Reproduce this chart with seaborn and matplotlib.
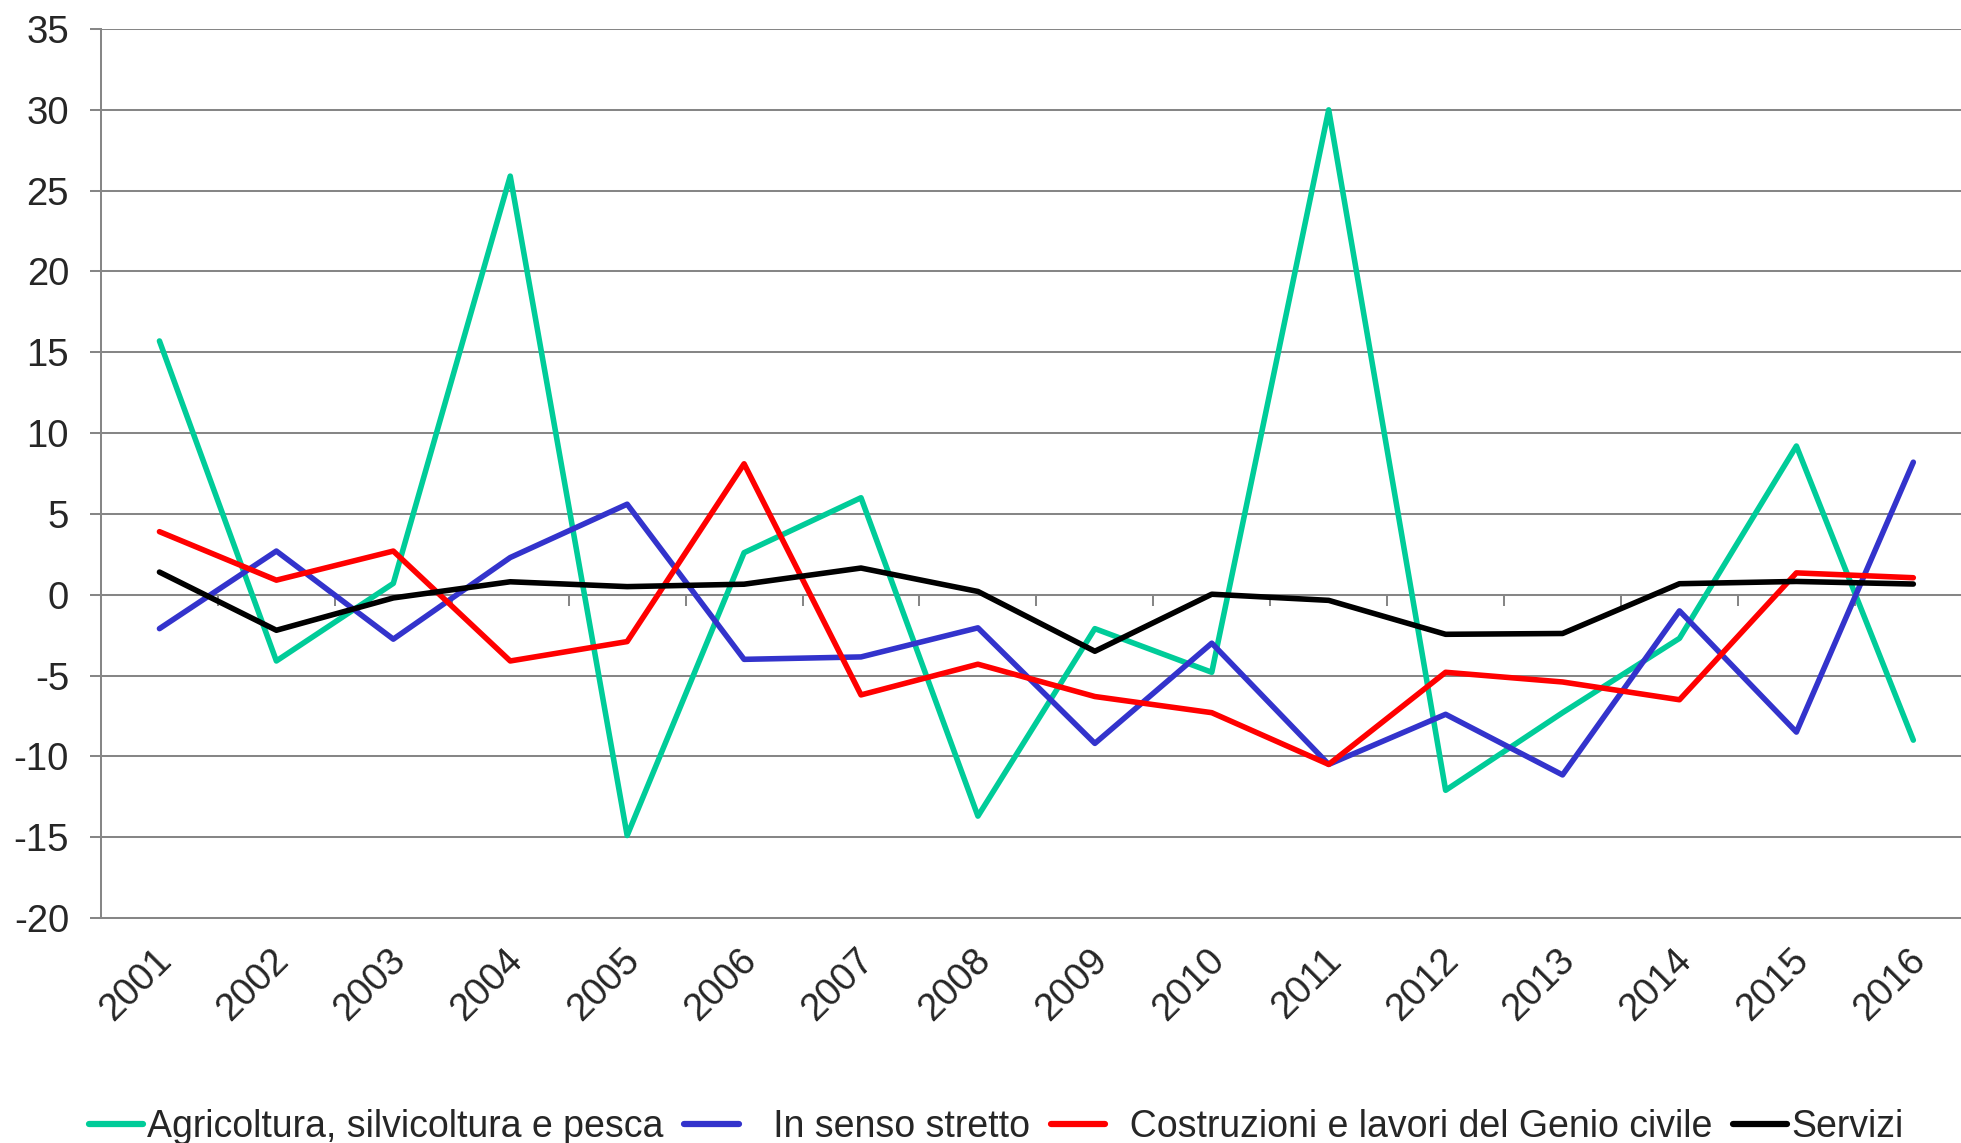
import pandas as pd
import numpy as np
import matplotlib
matplotlib.use('Agg')
import matplotlib.pyplot as plt
import matplotlib.transforms as mtransforms
import seaborn as sns

# data (variazioni %)
anni = [str(a) for a in range(2001, 2017)]
settori = ['Agricoltura, silvicoltura e pesca', '   In senso stretto',
           '  Costruzioni e lavori del Genio civile', 'Servizi']
agricoltura = [15.7, -4.1, 0.7, 25.9, -14.9, 2.6, 6.0, -13.7,
               -2.1, -4.8, 30.0, -12.1, -7.3, -2.7, 9.2, -9.0]
senso_stretto = [-2.1, 2.7, -2.75, 2.3, 5.6, -4.0, -3.85, -2.05,
                 -9.2, -3.0, -10.5, -7.4, -11.15, -1.0, -8.5, 8.2]
costruzioni = [3.9, 0.9, 2.7, -4.1, -2.9, 8.1, -6.2, -4.3,
               -6.3, -7.3, -10.5, -4.8, -5.4, -6.5, 1.35, 1.05]
servizi = [1.4, -2.2, -0.2, 0.8, 0.5, 0.65, 1.65, 0.2,
           -3.5, 0.03, -0.35, -2.45, -2.4, 0.68, 0.82, 0.66]
colori = ['#00CC99', '#3333CC', '#FF0000', '#000000']

serie = [agricoltura, senso_stretto, costruzioni, servizi]
df = pd.concat([pd.DataFrame({'Anno': anni, 'Valore': v, 'Settore': s})
                for s, v in zip(settori, serie)], ignore_index=True)

sns.set_style('white')
plt.rcParams['font.family'] = ['Liberation Sans', 'DejaVu Sans']
plt.rcParams['axes.unicode_minus'] = False
grigio = '#868686'

fig = plt.figure(figsize=(19.61, 11.43), dpi=100)
ax = fig.add_axes([0.0515, 0.1969, 0.954, 0.7777])

sns.lineplot(data=df, x='Anno', y='Valore', hue='Settore', palette=colori,
             linewidth=4.0, sort=False, ax=ax, zorder=3)
for ln in ax.lines:
    ln.set_solid_capstyle('round')
    ln.set_solid_joinstyle('round')

ax.set_xlim(-0.5, 15.5)
ax.set_ylim(-20, 35)
ax.set_yticks(np.arange(-20, 36, 5))
ax.set_xlabel('')
ax.set_ylabel('')
ax.grid(axis='y', color=grigio, linewidth=1.45)
ax.set_axisbelow(True)
for side in ['top', 'right']:
    ax.spines[side].set_visible(False)
for side in ['left', 'bottom']:
    ax.spines[side].set_color(grigio)
    ax.spines[side].set_linewidth(1.45)

ax.tick_params(axis='y', left=True, direction='out', length=8, width=1.45,
               color=grigio, pad=15, labelsize=27.5)
ax.tick_params(axis='x', bottom=False, pad=23, labelsize=27.5)
offset = mtransforms.ScaledTranslation(0.07, 0, fig.dpi_scale_trans)
for lab in ax.get_xticklabels():
    lab.set_rotation(45)
    lab.set_ha('right')
    lab.set_va('center')
    lab.set_rotation_mode('anchor')
    lab.set_transform(lab.get_transform() + offset)

# category tick marks along the zero line
sec = ax.secondary_xaxis(20 / 55)
sec.set_xticks(np.arange(-0.5, 16, 1))
sec.set_xticklabels([])
sec.tick_params(direction='out', length=8, width=1.45, color=grigio)
sec.spines['bottom'].set_color(grigio)
sec.spines['bottom'].set_linewidth(1.45)

handles, labels = ax.get_legend_handles_labels()
ax.get_legend().remove()
leg = fig.legend(handles, labels, loc='center', bbox_to_anchor=(0.508, 0.014),
                 ncol=4, frameon=False, fontsize=27, handlelength=1.45,
                 handletextpad=0.1, columnspacing=0.55, borderaxespad=0)
for ln in leg.get_lines():
    ln.set_linewidth(4.5)
    ln.set_solid_capstyle('round')

fig.savefig('out.png', dpi=100)
